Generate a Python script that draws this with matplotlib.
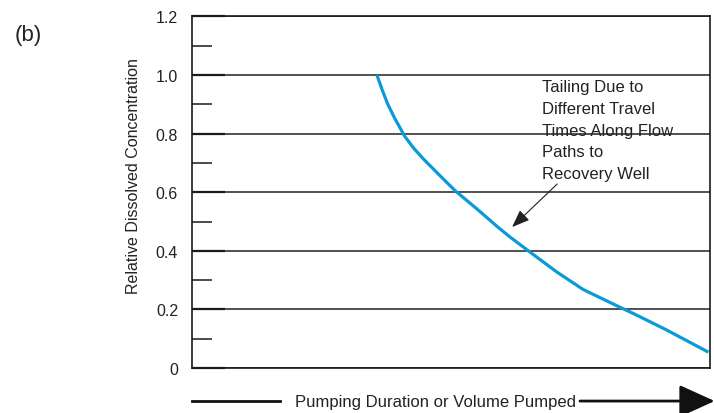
import numpy as np
import matplotlib
matplotlib.use('Agg')
import matplotlib.pyplot as plt
import matplotlib.ticker as mticker

plt.rcParams['font.family'] = ['Liberation Sans', 'DejaVu Sans']

# tailing curve (x is a relative pumping duration, 0..1)
duration = [0.357, 0.367, 0.378, 0.392, 0.411, 0.429, 0.447, 0.479, 0.508, 0.550, 0.591,
            0.614, 0.653, 0.704, 0.755, 0.823, 0.852, 0.916, 0.997]
concentration = [1.0, 0.95, 0.90, 0.85, 0.79, 0.748, 0.713, 0.656, 0.605, 0.543, 0.480,
                 0.447, 0.395, 0.328, 0.268, 0.210, 0.186, 0.130, 0.054]

major_ticks = [0, 0.2, 0.4, 0.6, 0.8, 1.0, 1.2]
major_labels = ['0', '0.2', '0.4', '0.6', '0.8', '1.0', '1.2']
minor_ticks = [0.1, 0.3, 0.5, 0.7, 0.9, 1.1]

note = 'Tailing Due to\nDifferent Travel\nTimes Along Flow\nPaths to\nRecovery Well'
note_pos = (0.676, 0.985)
arrow_tail = (0.705, 0.628)
arrow_head = (0.618, 0.481)

fig = plt.figure(figsize=(7.14, 4.14), dpi=100)
ax = fig.add_axes([192/714, 45/414, 518/714, 351.6/414])

ax.plot(duration, concentration, color='#0a9bd7', lw=2.3, solid_capstyle='butt',
        solid_joinstyle='round')

ax.set_xlim(0, 1)
ax.set_ylim(0, 1.2)
ax.set_xticks([])
ax.yaxis.set_major_locator(mticker.FixedLocator(major_ticks))
ax.set_yticklabels(major_labels)
ax.yaxis.set_minor_locator(mticker.FixedLocator(minor_ticks))
ax.tick_params(axis='y', which='major', direction='in', length=24, width=1.6,
               pad=10, labelsize=11.5, color='#1a1a1a', labelcolor='#222222')
ax.tick_params(axis='y', which='minor', direction='in', length=14.5, width=1.1,
               color='#1a1a1a')
ax.yaxis.grid(True, which='major', color='#222222', lw=1.1)
for s in ax.spines.values():
    s.set_color('#1a1a1a')
    s.set_linewidth(1.2)

ax.set_ylabel('Relative Dissolved Concentration', fontsize=11.5, color='#222222')
ax.yaxis.set_label_coords(-0.098, 0.55)

ax.text(note_pos[0], note_pos[1], note, fontsize=12, color='#222222',
        ha='left', va='top', linespacing=1.55)
ax.annotate('', xy=arrow_head, xytext=arrow_tail,
            arrowprops=dict(arrowstyle='-|>,head_length=0.9,head_width=0.35',
                            color='#222222', lw=0.8, mutation_scale=12,
                            shrinkA=0, shrinkB=0))

# x axis caption with arrow
ax.plot([0, 0.17], [-0.094, -0.094], transform=ax.transAxes, color='#111111',
        lw=2, clip_on=False)
ax.text(0.199, -0.094, 'Pumping Duration or Volume Pumped', transform=ax.transAxes,
        fontsize=12, color='#222222', ha='left', va='center')
ax.annotate('', xy=(1.009, -0.094), xycoords='axes fraction',
            xytext=(0.749, -0.094), textcoords='axes fraction',
            arrowprops=dict(arrowstyle='-|>,head_length=1.1,head_width=0.5',
                            color='#111111', lw=2, mutation_scale=20,
                            shrinkA=0, shrinkB=0))

fig.text(15/714, 1 - 35/414, '(b)', fontsize=16, color='#222222', ha='left', va='center')

fig.savefig('out.png', dpi=100)
